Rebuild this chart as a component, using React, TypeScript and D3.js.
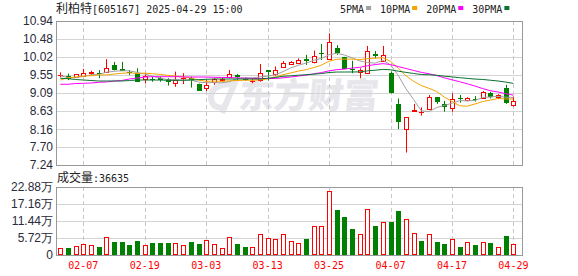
import React from "react";
import * as d3 from "d3";

const dates = ["01-27","02-05","02-06","02-07","02-10","02-11","02-12","02-13","02-14","02-17","02-18","02-19","02-20","02-21","02-24","02-25","02-26","02-27","02-28","03-03","03-04","03-05","03-06","03-07","03-10","03-11","03-12","03-13","03-14","03-17","03-18","03-19","03-20","03-21","03-24","03-25","03-26","03-27","03-28","03-31","04-01","04-02","04-03","04-07","04-08","04-09","04-10","04-11","04-14","04-15","04-16","04-17","04-18","04-21","04-22","04-23","04-24","04-25","04-28","04-29"];

const opens = [9.54,9.535,9.49,9.53,9.61,9.60,9.62,9.82,9.71,9.63,9.60,9.45,9.44,9.48,9.44,9.34,9.47,9.47,9.32,9.21,9.38,9.43,9.49,9.55,9.45,9.40,9.42,9.67,9.58,9.75,9.83,9.85,9.96,9.88,10.11,9.96,10.24,10.02,9.70,9.63,9.61,10.08,9.92,9.61,8.81,8.16,8.64,8.60,8.69,8.98,8.81,8.70,8.96,8.91,8.935,8.97,9.08,8.99,9.21,8.77];
const highs = [9.62,9.59,9.58,9.71,9.66,9.68,9.96,9.89,9.89,9.68,9.725,9.60,9.51,9.51,9.47,9.64,9.60,9.51,9.33,9.42,9.47,9.48,9.68,9.58,9.49,9.47,9.835,9.67,9.77,9.91,9.91,9.98,10.07,10.18,10.35,10.62,10.32,10.02,9.92,9.725,10.30,10.17,10.30,9.64,8.95,8.47,8.81,8.72,9.04,8.98,8.89,9.08,9.04,8.98,9.01,9.14,9.12,9.06,9.30,9.00];
const lows = [9.49,9.42,9.48,9.53,9.55,9.47,9.62,9.67,9.655,9.55,9.38,9.34,9.38,9.38,9.28,9.25,9.32,9.23,9.15,9.14,9.30,9.37,9.47,9.42,9.40,9.34,9.38,9.41,9.53,9.75,9.81,9.83,9.81,9.85,9.94,9.96,10.07,9.70,9.60,9.47,9.61,9.98,9.89,9.08,8.165,7.56,8.61,8.51,8.65,8.81,8.61,8.61,8.84,8.88,8.87,8.95,8.95,8.93,8.81,8.74];
const closes = [9.55,9.45,9.57,9.60,9.62,9.59,9.74,9.69,9.66,9.62,9.38,9.535,9.42,9.42,9.38,9.42,9.48,9.42,9.15,9.30,9.44,9.45,9.57,9.51,9.44,9.41,9.60,9.64,9.69,9.85,9.89,9.94,9.92,10.05,10.08,10.39,10.11,9.70,9.69,9.68,10.18,10.04,10.07,9.08,8.35,8.47,8.65,8.61,8.98,8.87,8.74,8.93,8.95,8.95,8.925,9.11,9.00,9.04,8.84,8.88];

const volumes = [22500,22500,30300,38000,32600,26900,59600,42700,42700,33600,46000,32600,39300,39300,39300,41500,32600,43700,37000,49300,36000,22500,59600,36000,28000,26900,69600,57200,53800,69600,47100,39300,53800,96400,96400,215000,151000,128000,87500,70700,155000,97600,110000,111000,148000,121000,73000,47100,69600,43700,37000,53800,28000,42700,33600,42700,40400,25900,63900,36635];
const volumeUp = [1,0,1,1,1,0,1,0,0,0,0,1,0,0,0,1,1,0,0,1,1,1,1,0,0,1,1,1,1,1,1,1,0,1,1,1,0,0,0,1,1,0,1,0,0,1,1,0,1,0,0,1,0,1,0,1,0,1,0,1];

const ma5 = [9.535,9.483,9.483,9.514,9.558,9.566,9.624,9.648,9.66,9.66,9.618,9.577,9.523,9.475,9.427,9.435,9.424,9.424,9.37,9.354,9.358,9.352,9.382,9.454,9.482,9.476,9.506,9.52,9.556,9.638,9.734,9.802,9.858,9.93,9.976,10.076,10.11,10.066,9.994,9.914,9.872,9.858,9.932,9.81,9.544,9.202,8.924,8.632,8.612,8.716,8.77,8.826,8.894,8.888,8.899,8.973,8.987,9.005,8.983,8.974];
const ma10 = [9.424,9.483,9.501,9.527,9.535,9.553,9.553,9.578,9.596,9.609,9.592,9.60,9.586,9.568,9.544,9.527,9.50,9.474,9.423,9.39,9.397,9.388,9.403,9.412,9.418,9.417,9.429,9.451,9.505,9.56,9.605,9.654,9.689,9.743,9.807,9.905,9.956,9.962,9.962,9.945,9.974,9.984,9.999,9.902,9.729,9.537,9.391,9.282,9.211,9.13,8.986,8.875,8.763,8.75,8.808,8.87,8.907,8.95,8.936,8.937];
const ma20 = [9.314,9.314,9.334,9.339,9.347,9.365,9.373,9.398,9.411,9.45,9.475,9.50,9.509,9.509,9.509,9.509,9.505,9.50,9.50,9.50,9.494,9.49,9.485,9.48,9.47,9.465,9.462,9.462,9.464,9.48,9.50,9.525,9.55,9.58,9.615,9.66,9.69,9.705,9.73,9.75,9.79,9.82,9.844,9.82,9.77,9.72,9.67,9.62,9.585,9.54,9.48,9.43,9.38,9.326,9.268,9.204,9.149,9.116,9.073,9.033];
const ma30 = [9.468,9.457,9.437,9.424,9.411,9.398,9.398,9.398,9.398,9.411,9.424,9.424,9.424,9.424,9.416,9.416,9.416,9.424,9.432,9.442,9.45,9.45,9.45,9.45,9.45,9.45,9.45,9.468,9.488,9.52,9.531,9.548,9.559,9.574,9.59,9.616,9.629,9.629,9.63,9.632,9.659,9.675,9.697,9.686,9.651,9.62,9.592,9.565,9.559,9.545,9.522,9.504,9.484,9.465,9.448,9.438,9.418,9.398,9.37,9.337];

const priceTicks = ["10.94","10.48","10.02","9.55","9.09","8.63","8.16","7.70","7.24"];
const volumeTicks = [228800,171600,114400,57200,0];
const volumeTickLabels = ["22.88万","17.16万","11.44万","5.72万","0"];
const xTickLabels = ["02-07","02-19","03-03","03-13","03-25","04-07","04-17","04-29"];
const maNames = ["5PMA","10PMA","20PMA","30PMA"];
const titleName = "利柏特";
const titleRest = "[605167] 2025-04-29 15:00";
const volumeTitle = "成交量";
const watermark = "东方财富";

const RED = "#ff0000";
const GREEN = "#008000";
const MA_COLORS = ["#a0a0a0", "#f5a300", "#ff00ff", "#0a7232"];
const MONO = "'DejaVu Sans Mono', monospace";
const CJK = "'Noto Sans CJK SC', sans-serif";

const L = 56, R = 522;
const MT = 21, MB = 165;
const VT = 187, VB = 255;

export default function App() {
  const x = d3.scaleLinear().domain([0, dates.length - 1]).range([60.3, 513.4]);
  const y = d3.scaleLinear().domain([7.24, 10.94]).range([MB, MT]);
  const vy = d3.scaleLinear().domain([0, 228800]).range([VB, VT]);
  const mas = [ma5, ma10, ma20, ma30];
  const line = (arr: number[]) =>
    d3.line<number>().x((_, i) => x(i)).y((d) => y(d))(arr) || "";

  const gridX = xTickLabels.map((lab) => Math.round(x(dates.indexOf(lab))) + 0.5);

  const legendStart = 340;
  let lx = legendStart;
  const legend = maNames.map((n, i) => {
    const tx = lx;
    const w = n.length * 6.02;
    const sq = tx + w + 2;
    lx = sq + 5 + 9;
    return { n, tx, sq, c: MA_COLORS[i] };
  });

  return (
    <svg width={578} height={276} style={{ position: "absolute", left: 0, top: 0, background: "#fff" }}>
      {/* watermark */}
      <g fill="#e6e6eb">
        <path d="M236 80 L222 113" stroke="#e6e6eb" strokeWidth={6} fill="none" />
        <path d="M233 84 Q210 84 211 99 Q213 110 226 107" stroke="#e6e6eb" strokeWidth={6} fill="none" />
        <text x={238} y={108} fontFamily={CJK} fontSize={35} fontWeight={900} transform="skewX(-6) translate(11,0)">{watermark}</text>
      </g>

      {/* title */}
      <text x={56} y={13} fontSize={12} fill="#222">
        <tspan fontFamily={CJK}>{titleName}</tspan>
        <tspan fontFamily={MONO} fontSize={10}>{titleRest}</tspan>
      </text>
      {legend.map((l) => (
        <g key={l.n}>
          <text x={l.tx} y={13} fontFamily={MONO} fontSize={10} fill="#222">{l.n}</text>
          <rect x={l.sq} y={6} width={5} height={4} fill={l.c} />
        </g>
      ))}

      {/* main grid */}
      {priceTicks.map((t) => (
        <line key={"h" + t} x1={L} x2={R} y1={Math.round(y(+t)) + 0.5} y2={Math.round(y(+t)) + 0.5} stroke="#d4d4d4" />
      ))}
      {gridX.map((gx, i) => (
        <line key={"vm" + i} x1={gx} x2={gx} y1={MT} y2={MB} stroke="#c8c8c8" strokeDasharray="4,3" />
      ))}
      <rect x={L + 0.5} y={MT + 0.5} width={R - L} height={MB - MT} fill="none" stroke="#999" />

      {/* price labels */}
      {priceTicks.map((t) => (
        <text key={"pl" + t} x={53} y={y(+t)} dy="0.36em" textAnchor="end" fontFamily="'Liberation Sans', Arial, sans-serif" fontSize={12} fill="#2a2a3a">{t}</text>
      ))}

      {/* candles */}
      {dates.map((d, i) => {
        const cx = Math.round(x(i));
        const o = opens[i], c = closes[i];
        const up = c >= o;
        const top = y(Math.max(o, c));
        const bot = y(Math.min(o, c));
        const hi = y(Math.max(highs[i], o, c));
        const lo = y(Math.min(lows[i], o, c));
        if (up) {
          const t = Math.round(top), b = Math.round(bot);
          if (b - t < 1) {
            return (
              <g key={d}>
                <line x1={cx + 0.5} x2={cx + 0.5} y1={hi} y2={lo} stroke={RED} />
                <line x1={cx - 2} x2={cx + 3} y1={t + 0.5} y2={t + 0.5} stroke={RED} />
              </g>
            );
          }
          return (
            <g key={d}>
              <line x1={cx + 0.5} x2={cx + 0.5} y1={hi} y2={t} stroke={RED} />
              <line x1={cx + 0.5} x2={cx + 0.5} y1={b} y2={lo} stroke={RED} />
              <rect x={cx - 1.5} y={t + 0.5} width={4} height={b - t} fill="#fff" stroke={RED} />
            </g>
          );
        }
        const t = Math.round(top);
        const h = Math.max(1, Math.round(bot) - t);
        return (
          <g key={d}>
            <line x1={cx + 0.5} x2={cx + 0.5} y1={hi} y2={lo} stroke={GREEN} />
            <rect x={cx - 2} y={t} width={5} height={h} fill={GREEN} />
          </g>
        );
      })}

      {/* moving averages */}
      {mas.map((m, i) => (
        <path key={"ma" + i} d={line(m)} fill="none" stroke={MA_COLORS[i]} strokeWidth={1} />
      ))}

      {/* volume panel */}
      <text x={57} y={182} fontSize={12} fill="#222">
        <tspan fontFamily={CJK}>{volumeTitle}</tspan>
        <tspan fontFamily={MONO} fontSize={10}>{":" + String(volumes[volumes.length - 1])}</tspan>
      </text>
      {volumeTicks.map((v) => (
        <line key={"vh" + v} x1={L} x2={R} y1={Math.round(vy(v)) + 0.5} y2={Math.round(vy(v)) + 0.5} stroke="#d4d4d4" />
      ))}
      {gridX.map((gx, i) => (
        <line key={"vv" + i} x1={gx} x2={gx} y1={VT} y2={VB} stroke="#c8c8c8" strokeDasharray="4,3" />
      ))}
      <rect x={L + 0.5} y={VT + 0.5} width={R - L} height={VB - VT} fill="none" stroke="#999" />
      {volumeTicks.map((v, i) => (
        <text key={"vl" + v} x={53} y={vy(v)} dy="0.36em" textAnchor="end" fontFamily="'Liberation Sans', Arial, sans-serif" fontSize={12} fill="#2a2a3a">
          {volumeTickLabels[i]}
        </text>
      ))}
      {volumes.map((v, i) => {
        const cx = Math.round(x(i));
        const t = Math.round(vy(v));
        if (volumeUp[i]) {
          return <rect key={"vb" + i} x={cx - 1.5} y={t + 0.5} width={4} height={VB - t - 1} fill="#fff" stroke={RED} />;
        }
        return <rect key={"vb" + i} x={cx - 2} y={t} width={5} height={VB - t} fill={GREEN} />;
      })}

      {/* x labels */}
      {xTickLabels.map((lab) => (
        <text key={"xl" + lab} x={x(dates.indexOf(lab))} y={269} textAnchor="middle" fontFamily={MONO} fontSize={10} fill={RED}>{lab}</text>
      ))}
    </svg>
  );
}
